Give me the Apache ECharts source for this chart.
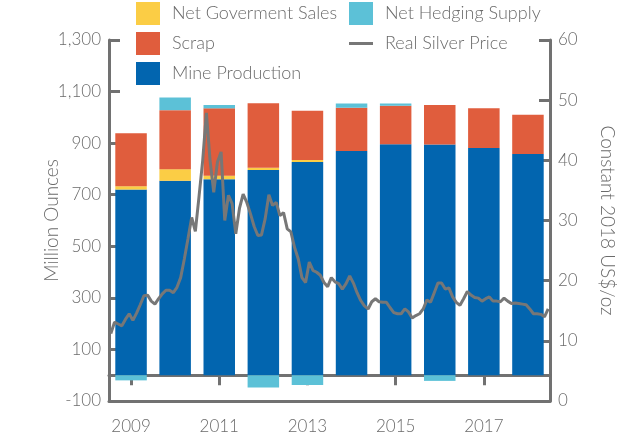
<!DOCTYPE html>
<html>
<head>
<meta charset="utf-8">
<script src="https://cdn.jsdelivr.net/npm/echarts@6/dist/echarts.min.js"></script>
<style>
html,body{margin:0;padding:0;background:#fff;}
#chart{width:640px;height:435px;}
</style>
</head>
<body>
<div id="chart"></div>
<script>
var years = ['2009','2010','2011','2012','2013','2014','2015','2016','2017','2018'];
var mineProduction = [720, 754, 760, 796, 827, 870, 896, 895, 881, 858];
var netGovSales = [13, 45, 14, 9, 8, 0, 0, 0, 0, 0];
var scrap = [205, 229, 261, 250, 191, 167, 149, 153, 154, 152];
var netHedging = [-20, 49, 13, -48, -38, 17, 9, -22, 0, 0];
var leftTicks = [-100, 100, 300, 500, 700, 900, 1100, 1300];
var rightTicks = [0, 10, 20, 30, 40, 50, 60];
var priceMonths = [];
years.forEach(function(y){ for (var m = 1; m <= 12; m++) priceMonths.push(y + '-' + m); });
var realSilverPrice = [
  11.2, 13.1, 12.8, 12.5, 13.6, 14.5, 13.4, 14.6, 16.0, 17.5, 17.6, 16.6,
  16.1, 17.0, 17.8, 18.4, 18.4, 18.0, 18.9, 20.5, 23.6, 27.0, 30.5, 28.2,
  34.0, 40.0, 47.9, 40.0, 34.7, 39.7, 41.4, 30.0, 34.2, 32.8, 27.8, 32.0,
  34.4, 33.0, 31.1, 29.0, 27.5, 27.6, 30.3, 34.3, 32.5, 33.0, 30.8, 31.3,
  28.6, 28.1, 25.5, 23.6, 20.5, 19.7, 23.1, 21.7, 21.4, 20.9, 19.7, 19.0,
  20.5, 19.8, 19.5, 18.6, 19.5, 20.8, 19.6, 18.0, 16.7, 15.8, 15.3, 16.5,
  17.0, 16.5, 16.4, 16.4, 15.5, 14.7, 14.5, 14.5, 15.3, 14.8, 13.8, 14.2,
  14.5, 15.3, 16.8, 16.4, 18.0, 19.6, 19.6, 18.6, 18.8, 17.3, 16.4, 15.9,
  17.0, 18.2, 17.6, 17.2, 17.1, 16.6, 17.0, 17.3, 16.6, 16.6, 16.5, 17.1,
  16.6, 16.2, 16.3, 16.2, 16.1, 16.0, 15.3, 14.5, 14.5, 14.4, 14.0, 15.3
];

var FONT = 'Lato';
var TXT = '#6b6b6b';
var AX = '#717171';
var LINE_ICON = 'path://M0,0M24,23M0,10L24,10L24,13L0,13Z';
var chart = echarts.init(document.getElementById('chart'), null, {renderer: 'canvas'});
function fmtComma(v){ return String(v).replace(/\B(?=(\d{3})+(?!\d))/g, ','); }

var legendText = {fontSize: 18, color: TXT, fontFamily: FONT, fontWeight: 300, padding: [0, 0, 0, 7]};
var option = {
  animation: false,
  textStyle: {fontFamily: FONT},
  color: ['#0265AF', '#FBCD45', '#E05D3D', '#5CC1D7', '#777777'],
  legend: [
    {
      left: 136, top: 2, orient: 'vertical', padding: 0,
      itemWidth: 24, itemHeight: 23, itemGap: 7, icon: 'rect',
      data: ['Net Goverment Sales', 'Scrap', 'Mine Production'],
      textStyle: legendText
    },
    {
      left: 349, top: 2, orient: 'vertical', padding: 0,
      itemWidth: 24, itemHeight: 23, itemGap: 7,
      data: [
        {name: 'Net Hedging Supply', icon: 'rect'},
        {name: 'Real Silver Price', icon: LINE_ICON, itemStyle: {color: '#777777'}}
      ],
      textStyle: legendText
    }
  ],
  grid: {left: 109, right: 90, top: 40, bottom: 34, containLabel: false},
  xAxis: [
    {
      type: 'category', data: years, position: 'bottom',
      axisLine: {show: true, onZero: true, onZeroAxisIndex: 0, lineStyle: {color: AX, width: 3}},
      axisTick: {show: true, interval: 1, alignWithLabel: true, length: 10, lineStyle: {color: AX, width: 3}},
      axisLabel: {show: false},
      splitLine: {show: false}
    },
    {
      type: 'category', data: priceMonths, show: false,
      axisLine: {onZero: false}
    },
    {
      type: 'category', data: years, position: 'bottom',
      axisLine: {show: true, onZero: false, lineStyle: {color: AX, width: 3}},
      axisTick: {show: false},
      axisLabel: {show: true, interval: 1, fontSize: 17, color: TXT, margin: 17, fontFamily: FONT, fontWeight: 300},
      splitLine: {show: false}
    }
  ],
  yAxis: [
    {
      type: 'value', position: 'left', min: leftTicks[0], max: leftTicks[leftTicks.length - 1], interval: 200,
      name: 'Million Ounces', nameLocation: 'middle', nameGap: 48, nameMoveOverlap: false,
      nameTextStyle: {fontSize: 19, color: TXT, fontFamily: FONT, fontWeight: 300},
      axisLine: {show: true, lineStyle: {color: AX, width: 3}},
      axisTick: {show: true, inside: true, length: 11, lineStyle: {color: AX, width: 3}},
      axisLabel: {fontSize: 17, color: TXT, margin: 8, fontFamily: FONT, fontWeight: 300, formatter: fmtComma},
      splitLine: {show: false}
    },
    {
      type: 'value', position: 'right', min: rightTicks[0], max: rightTicks[rightTicks.length - 1], interval: 10,
      name: 'Constant 2018 US$/oz', nameLocation: 'middle', nameGap: 48, nameRotate: -90, nameMoveOverlap: false,
      nameTextStyle: {fontSize: 19, color: TXT, fontFamily: FONT, fontWeight: 300},
      axisLine: {show: true, lineStyle: {color: AX, width: 3}},
      axisTick: {show: true, inside: true, length: 11, lineStyle: {color: AX, width: 3}},
      axisLabel: {fontSize: 17, color: TXT, margin: 8, fontFamily: FONT, fontWeight: 300},
      splitLine: {show: false}
    }
  ],
  series: [
    {name: 'Mine Production', type: 'bar', stack: 'supply', xAxisIndex: 0, yAxisIndex: 0, barWidth: 31.5, data: mineProduction, itemStyle: {color: '#0265AF'}},
    {name: 'Net Goverment Sales', type: 'bar', stack: 'supply', xAxisIndex: 0, yAxisIndex: 0, barWidth: 31.5, data: netGovSales, itemStyle: {color: '#FBCD45'}},
    {name: 'Scrap', type: 'bar', stack: 'supply', xAxisIndex: 0, yAxisIndex: 0, barWidth: 31.5, data: scrap, itemStyle: {color: '#E05D3D'}},
    {name: 'Net Hedging Supply', type: 'bar', stack: 'supply', xAxisIndex: 0, yAxisIndex: 0, barWidth: 31.5, data: netHedging, itemStyle: {color: '#5CC1D7'}},
    {name: 'Real Silver Price', type: 'line', xAxisIndex: 1, yAxisIndex: 1, data: realSilverPrice,
     showSymbol: false, symbol: 'none', z: 5,
     lineStyle: {color: '#777777', width: 3}, itemStyle: {color: '#777777'}}
  ]
};
chart.setOption(option);
</script>
</body>
</html>
